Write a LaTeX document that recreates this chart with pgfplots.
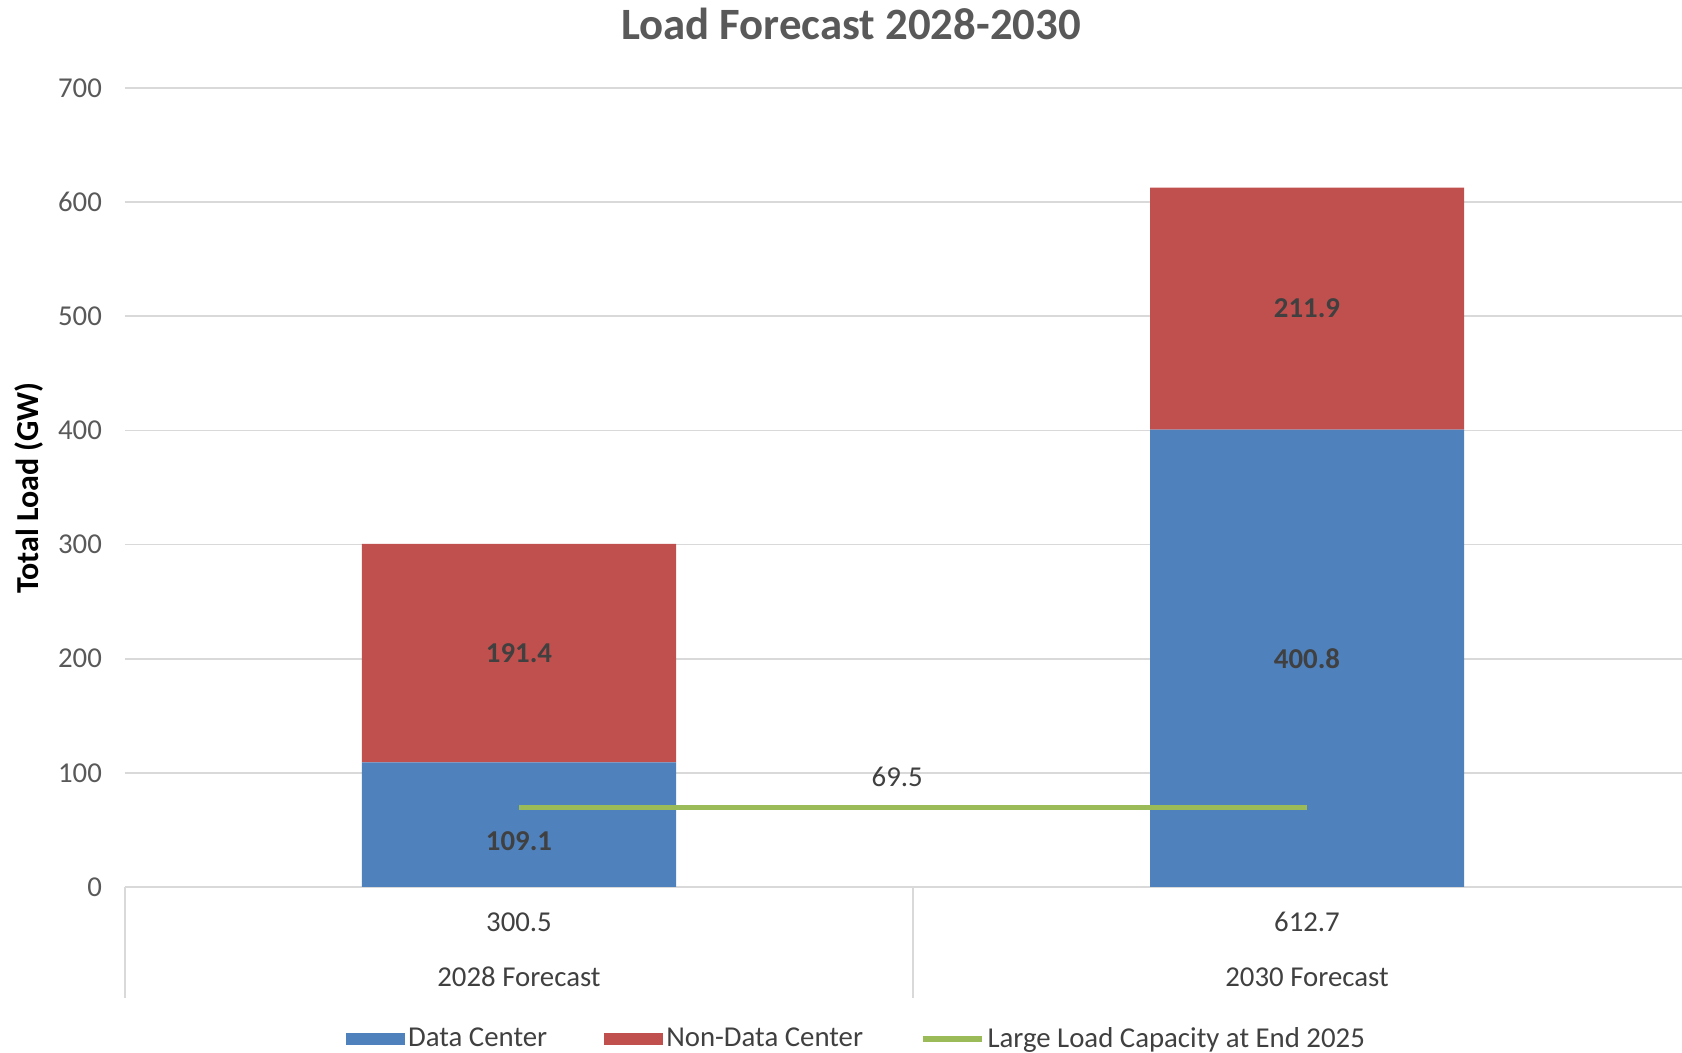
\documentclass[border=0pt]{standalone}
\usepackage{fontspec}
\setmainfont{Carlito}
\usepackage{pgfplots}
\pgfplotsset{compat=1.18}
\definecolor{dcblue}{HTML}{4F81BD}
\definecolor{ndcred}{HTML}{C0504D}
\definecolor{llgreen}{HTML}{9BBB59}
\definecolor{gridgrey}{HTML}{D9D9D9}
\definecolor{ticktext}{HTML}{595959}
\definecolor{labtext}{HTML}{404040}
\pgfplotsset{base/.style={scale only axis, width=788pt, height=399.5pt,
  xmin=-0.5, xmax=1.5, ymin=0, ymax=700, clip=false}}
\begin{document}
\begin{tikzpicture}
\begin{axis}[base,
  ybar stacked, bar width=157pt,
  axis line style={draw=none},
  ymajorgrids, grid style={color=gridgrey, line width=0.8pt},
  ytick={0,100,...,700}, xtick=\empty,
  tick style={draw=none}, major tick length=0pt,
  /pgf/number format/assume math mode=true,
  yticklabel style={font=\fontsize{14.4}{17}\selectfont, text=ticktext, anchor=east, xshift=-8pt},
  legend style={at={(0.4645,-0.19)}, anchor=center, draw=none, fill=none,
    legend columns=3, font=\fontsize{14.4}{17}\selectfont\color{labtext},
    /tikz/every even column/.append style={column sep=27pt},
    nodes={inner sep=1.5pt}},
  legend image code/.code={\fill[#1] (0pt,-3pt) rectangle (29.5pt,3pt);},
]
\addplot[fill=dcblue, draw=none] coordinates {(0,109.1) (1,400.8)};
\addlegendentry{Data Center}
\addplot[fill=ndcred, draw=none] coordinates {(0,191.4) (1,211.9)};
\addlegendentry{Non-Data Center}
\addlegendimage{legend image code/.code={\draw[llgreen, line width=2.7pt] (0pt,0pt) -- (29.5pt,0pt);}}
\addlegendentry{Large Load Capacity at End 2025}
\end{axis}
\begin{axis}[base, hide axis]
\addplot[llgreen, line width=2.7pt, mark=none] coordinates {(0,69.5) (1,69.5)};
\begin{scope}[every node/.style={font=\bfseries\fontsize{14.4}{17}\selectfont, text=labtext}]
\node at (axis cs:0,40) {109.1};
\node at (axis cs:0,204.8) {191.4};
\node at (axis cs:1,200.4) {400.8};
\node at (axis cs:1,506.75) {211.9};
\end{scope}
\node[font=\fontsize{14.4}{17}\selectfont, text=labtext] at (axis cs:0.48,96.8) {69.5};
\begin{scope}[every node/.style={font=\fontsize{14.4}{17}\selectfont, text=labtext}]
\node[yshift=-17.5pt] at (axis cs:0,0) {300.5};
\node[yshift=-17.5pt] at (axis cs:1,0) {612.7};
\node[yshift=-45pt] at (axis cs:0,0) {2028 Forecast};
\node[yshift=-45pt] at (axis cs:1,0) {2030 Forecast};
\end{scope}
\draw[gridgrey, line width=0.8pt] (axis cs:-0.5,0) -- ++(0pt,-55.5pt);
\draw[gridgrey, line width=0.8pt] (axis cs:0.5,0) -- ++(0pt,-55.5pt);
\end{axis}
\node[font=\bfseries\fontsize{22.4}{26}\selectfont, text=ticktext] at (363pt,431.5pt) {Load Forecast 2028-2030};
\node[font=\bfseries\fontsize{16}{19}\selectfont, rotate=90] at (-48pt,199.5pt) {Total Load (GW)};
\pgfresetboundingbox
\path[use as bounding box] (-62.5pt,-83pt) rectangle (778.5pt,443.5pt);
\end{tikzpicture}
\end{document}
